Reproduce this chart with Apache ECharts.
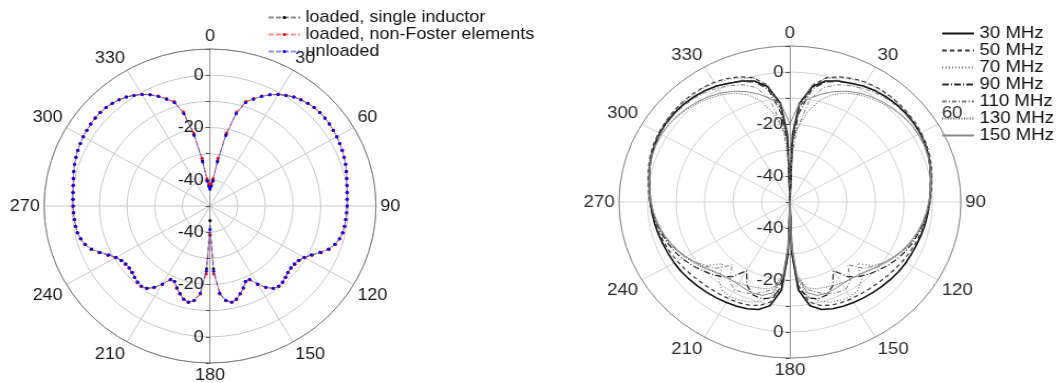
<!DOCTYPE html>
<html><head><meta charset="utf-8">
<script src="https://cdn.jsdelivr.net/npm/echarts@6/dist/echarts.min.js"></script>
<style>
html,body{margin:0;padding:0;background:#fff;width:1058px;height:383px;overflow:hidden;}
#left{position:absolute;left:0;top:0;width:520px;height:383px;transform-origin:0 0;transform:scaleX(1.057);}
#right{position:absolute;left:529px;top:0;width:483px;height:383px;transform-origin:0 0;transform:scaleX(1.096);}
</style></head><body>
<div id="left"></div><div id="right"></div>
<script>
// ---------- Left chart data (right half 0..180 deg, pattern is symmetric) ----------
const leftAngles = [0,3,6,9,12,15,18,21,24,27,30,33,36,39,42,45,48,51,54,57,60,63,66,69,72,75,78,81,84,87,90,93,96,99,102,105,108,111,114,117,120,123,126,129,132,135,138,141,144,147,150,153,156,159,162,165,168,171,174,177,180];
const loadedInductor = [-42.5,-42,-40,-32.5,-22,-13.2,-8.3,-6.2,-4.1,-2.3,-0.8,0.4,1.5,2.2,2.8,3.2,3.4,3.4,3.3,3.1,2.9,2.6,2.3,1.9,1.5,1.0,0.5,0.1,-0.2,-0.4,-0.5,-0.6,-0.7,-0.8,-1.0,-1.5,-2.4,-3.9,-6.1,-8.6,-10.5,-11.6,-12.1,-12.3,-12.0,-11.4,-10.8,-10.5,-11.1,-12.9,-15.5,-18.5,-18.4,-16.4,-14.7,-13.1,-12.4,-13.4,-16.4,-26,-44.5];
const loadedNonFoster = [-42,-41.5,-39.5,-31.5,-21.5,-12.8,-8.0,-6.0,-4.0,-2.2,-0.7,0.5,1.6,2.3,2.9,3.3,3.5,3.5,3.4,3.2,3.0,2.7,2.4,2.0,1.6,1.1,0.6,0.2,-0.1,-0.3,-0.4,-0.5,-0.6,-0.7,-0.9,-1.5,-2.4,-4.0,-6.3,-8.8,-10.6,-11.7,-12.2,-12.3,-12.0,-11.3,-10.7,-10.4,-11.0,-12.8,-15.4,-18.3,-18.3,-16.3,-14.6,-13.0,-12.3,-13.3,-16.2,-24,-39];
const unloaded = [-43.5,-42.5,-40.5,-33,-22.5,-13.5,-8.5,-6.3,-4.2,-2.3,-0.8,0.4,1.5,2.2,2.8,3.2,3.4,3.4,3.3,3.1,2.9,2.6,2.3,1.9,1.5,1.0,0.5,0.1,-0.2,-0.4,-0.5,-0.6,-0.7,-0.8,-1.0,-1.6,-2.6,-4.2,-6.5,-9.0,-10.8,-11.9,-12.4,-12.5,-12.2,-11.5,-10.9,-10.6,-11.2,-13.0,-15.6,-18.6,-18.5,-16.5,-14.8,-13.2,-12.5,-13.5,-16.5,-25,-41];
const leftNames = ['loaded, single inductor','loaded, non-Foster elements','unloaded'];

// ---------- Right chart data (right half 0..180 deg, symmetric) ----------
const rightAngles = [0,2,5,10,15,20,25,30,35,40,45,50,55,60,65,70,75,80,85,90,95,100,105,110,115,120,125,130,135,140,145,150,155,160,165,170,175,178,180];
const mhz30  = [-50,-24,-12,-5,-1.8,-0.5,0.4,1.5,2.2,2.7,3.0,3.1,3.0,2.8,2.4,1.8,1.0,0.2,-0.5,-1.0,-1.4,-1.8,-2.2,-2.6,-2.9,-3.1,-3.4,-3.8,-4.2,-4.6,-5.0,-5.4,-5.8,-6.3,-7.2,-9.5,-16,-30,-50];
const mhz50  = [-50,-26,-14,-4.5,-0.5,1.2,2.4,3.2,3.6,3.8,3.8,3.7,3.5,3.2,2.8,2.2,1.4,0.6,-0.2,-0.8,-1.4,-2.0,-2.6,-3.2,-3.8,-4.4,-5.0,-5.6,-6.1,-6.5,-6.8,-7.0,-7.3,-7.8,-8.8,-11,-18,-32,-50];
const mhz70  = [-50,-25,-13,-4,-0.8,0.8,2.0,2.9,3.4,3.6,3.7,3.6,3.4,3.1,2.7,2.1,1.3,0.5,-0.3,-1.0,-1.6,-2.4,-3.4,-4.6,-6.0,-7.8,-9.5,-12,-16.5,-11,-8.5,-8.0,-8.3,-9.0,-10.5,-13,-20,-33,-50];
const mhz90  = [-50,-28,-16,-6,-2.2,-0.6,0.5,1.5,2.2,2.6,2.9,3.0,2.9,2.7,2.3,1.7,0.9,0.1,-0.6,-1.2,-1.8,-2.5,-3.3,-4.2,-5.2,-6.4,-7.8,-9.3,-10.8,-12.5,-15.0,-19.5,-14.5,-12.0,-11.5,-12.5,-17,-30,-50];
const mhz110 = [-50,-32,-22,-10,-4.5,-2.0,-0.6,0.6,1.5,2.1,2.5,2.7,2.7,2.6,2.3,1.8,1.1,0.3,-0.4,-1.1,-1.8,-2.7,-3.7,-4.9,-6.2,-7.8,-9.5,-11.5,-14,-18.5,-13,-11,-11.5,-12.5,-14,-16,-21,-32,-50];
const mhz130 = [-30,-27,-22,-15,-9.5,-6,-3.8,-2.3,-1.2,-0.2,0.7,1.4,1.9,2.1,2.0,1.6,1.0,0.3,-0.4,-1.1,-1.8,-2.6,-3.6,-4.7,-6.0,-7.5,-9.0,-10.5,-12.0,-13.0,-13.5,-14.0,-14.5,-15,-15.5,-16.5,-22,-33,-50];
const mhz150 = [-20,-17,-12,-9.5,-7,-4.8,-3.0,-1.6,-0.5,0.4,1.1,1.6,1.9,2.0,1.9,1.5,0.9,0.2,-0.5,-1.2,-2.0,-2.9,-3.9,-5.1,-6.4,-7.9,-9.4,-10.9,-12.3,-13.2,-13.6,-13.5,-13.0,-12.6,-12.8,-14.5,-21,-33,-50];
const rightNames = ['30 MHz','50 MHz','70 MHz','90 MHz','110 MHz','130 MHz','150 MHz'];

// ---------- axis tick labels ----------
const radiusLabels = [-40,-20,0];
const radiusMin = -50, radiusMax = 10, radiusStep = 10;
const angleStep = 30;

function mirror(angles, vals){
  const out = [];
  for (let i = 0; i < angles.length; i++) out.push([vals[i], angles[i]]);
  for (let i = angles.length - 2; i >= 0; i--) out.push([vals[i], 360 - angles[i]]);
  return out;
}
const FONT = 'Liberation Sans, Arial, Helvetica, sans-serif';
const radFmt = v => radiusLabels.indexOf(v) >= 0 ? String(v) : '';

function axes(center, radius, gridColor, outerColor, axisColor, labelColor){
  return {
    polar: [{center: center, radius: [0, radius]}, {center: center, radius: [0, radius]}],
    angleAxis: [
      {polarIndex: 0, type: 'value', min: 0, max: 360, interval: angleStep, startAngle: 90, clockwise: true,
       axisLine: {show: true, lineStyle: {color: outerColor, width: 1}},
       axisTick: {show: false},
       axisLabel: {fontSize: 17, color: labelColor, margin: 4, fontFamily: FONT,
                   formatter: v => v === 360 ? '' : String(v)},
       splitLine: {show: true, lineStyle: {color: gridColor, width: 1}}},
      {polarIndex: 1, type: 'value', min: 0, max: 360, interval: angleStep, startAngle: 270, clockwise: true,
       axisLine: {show: false}, axisTick: {show: false}, axisLabel: {show: false}, splitLine: {show: false}}
    ],
    radiusAxis: [
      {polarIndex: 0, type: 'value', min: radiusMin, max: radiusMax, interval: radiusStep,
       axisLine: {show: true, lineStyle: {color: axisColor}},
       axisTick: {show: true, length: 4, lineStyle: {color: '#555'}},
       axisLabel: {fontSize: 17, color: labelColor, margin: 6, fontFamily: FONT, formatter: radFmt},
       splitLine: {show: true, lineStyle: {color: gridColor, width: 1}}},
      {polarIndex: 1, type: 'value', min: radiusMin, max: radiusMax, interval: radiusStep,
       axisLine: {show: true, lineStyle: {color: axisColor}},
       axisTick: {show: true, length: -4, lineStyle: {color: '#555'}},
       axisLabel: {fontSize: 17, color: labelColor, margin: -6, align: 'right', fontFamily: FONT, formatter: radFmt},
       splitLine: {show: false}}
    ]
  };
}

// ---------- Left chart ----------
const leftChart = echarts.init(document.getElementById('left'));
const la = axes([198.7, 206], 157, '#c6c6c6', '#777777', '#9a9a9a', '#1a1a1a');
const leftColors = ['#000000', '#ff0000', '#0000ff'];
const leftData = [loadedInductor, loadedNonFoster, unloaded];
leftChart.setOption(Object.assign({
  animation: false,
  textStyle: {fontFamily: FONT},
  legend: {orient: 'vertical', left: 253, top: 9, itemGap: 0, itemWidth: 30, itemHeight: 4, padding: 0,
           data: leftNames, textStyle: {fontSize: 17, color: '#111', lineHeight: 17, fontFamily: FONT}},
  series: leftNames.map((n, i) => ({
    name: n, type: 'line', coordinateSystem: 'polar', polarIndex: 0,
    data: mirror(leftAngles, leftData[i]),
    symbol: 'circle', symbolSize: 3, showSymbol: true,
    itemStyle: {color: leftColors[i]},
    lineStyle: {color: leftColors[i], width: 1, opacity: 0.45, type: [5, 2]},
    z: 2 + i
  }))
}, la));

// ---------- Right chart ----------
const rightChart = echarts.init(document.getElementById('right'));
const ra = axes([238.1, 202], 156, '#d2d2d2', '#8a8a8a', '#a0a0a0', '#2a2a2a');
const rightData = [mhz30, mhz50, mhz70, mhz90, mhz110, mhz130, mhz150];
const rightStyles = [
  {color: '#111', width: 1.6, type: 'solid'},
  {color: '#333', width: 1.2, type: [4, 3]},
  {color: '#777', width: 1.2, type: [1, 2]},
  {color: '#222', width: 1.2, type: [6, 2, 1, 2]},
  {color: '#777', width: 1.0, type: [4, 2, 1, 2]},
  {color: '#555', width: 1.0, type: [1, 1.5]},
  {color: '#888', width: 1.0, type: 'solid'}
];
rightChart.setOption(Object.assign({
  animation: false,
  textStyle: {fontFamily: FONT},
  legend: {orient: 'vertical', left: 376, top: 25, itemGap: 0, itemWidth: 29, itemHeight: 4, padding: 0,
           itemStyle: {opacity: 0},
           data: rightNames, textStyle: {fontSize: 17, color: '#111', lineHeight: 16.7, fontFamily: FONT}},
  series: rightNames.map((n, i) => ({
    name: n, type: 'line', coordinateSystem: 'polar', polarIndex: 0,
    data: mirror(rightAngles, rightData[i]),
    symbol: 'none', showSymbol: false,
    itemStyle: {color: rightStyles[i].color},
    lineStyle: rightStyles[i],
    z: 2
  }))
}, ra));
</script>
</body></html>
